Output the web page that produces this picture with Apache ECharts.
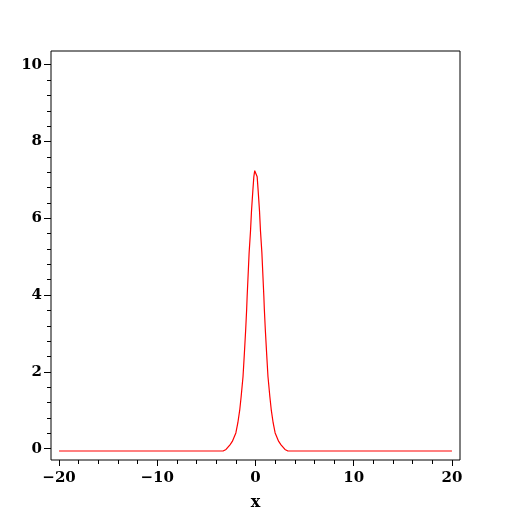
<!DOCTYPE html>
<html>
<head>
<meta charset="utf-8">
<script src="https://cdn.jsdelivr.net/npm/echarts@6/dist/echarts.min.js"></script>
<style>html,body{margin:0;padding:0;background:#fff;}#c{width:512px;height:512px;}</style>
</head>
<body>
<div id="c"></div>
<script>
var xs = [-20, -3.3, -3.0, -2.8, -2.6, -2.36, -2.0, -1.8, -1.6, -1.46, -1.27, -1.14, -1.0, -0.9, -0.85, -0.75, -0.65, -0.51, -0.41, -0.27, -0.17, -0.08, 0, 0.08, 0.17, 0.27, 0.41, 0.51, 0.65, 0.75, 0.85, 0.9, 1.0, 1.14, 1.27, 1.46, 1.6, 1.8, 2.0, 2.36, 2.6, 2.8, 3.0, 3.3, 20];
var ys = [-0.06, -0.06, -0.02, 0.04, 0.10, 0.19, 0.41, 0.67, 1.02, 1.36, 1.88, 2.45, 3.10, 3.63, 3.97, 4.53, 5.10, 5.66, 6.18, 6.72, 7.08, 7.24, 7.27, 7.24, 7.08, 6.72, 6.18, 5.66, 5.10, 4.53, 3.97, 3.63, 3.10, 2.45, 1.88, 1.36, 1.02, 0.67, 0.41, 0.19, 0.10, 0.04, -0.02, -0.06, -0.06];
var xMajorTicks = [-20, -10, 0, 10, 20];
var xMinorTicks = [-18, -16, -14, -12, -8, -6, -4, -2, 2, 4, 6, 8, 12, 14, 16, 18];
var yMajorTicks = [0, 2, 4, 6, 8, 10];
var yMinorTicks = [0.4, 0.8, 1.2, 1.6, 2.4, 2.8, 3.2, 3.6, 4.4, 4.8, 5.2, 5.6, 6.4, 6.8, 7.2, 7.6, 8.4, 8.8, 9.2, 9.6];
var xName = 'x';

var data = xs.map(function (x, i) { return [x, ys[i]]; });
var font = "'DejaVu Serif', 'Liberation Serif', serif";
var fmt = function (v) { return String(v).replace('-', '\u2212'); };
var xr = [-20.82, 20.82], yr = [-0.294, 10.357];

var chart = echarts.init(document.getElementById('c'), null, {renderer: 'canvas'});
chart.setOption({
  animation: false,
  backgroundColor: '#fff',
  grid: {left: 51, right: 52, top: 51, bottom: 52, outerBoundsMode: 'none', containLabel: false, show: true, borderColor: '#000', borderWidth: 1, backgroundColor: 'transparent'},
  xAxis: [{
    type: 'value', min: xr[0], max: xr[1], position: 'bottom',
    name: xName, nameLocation: 'middle', nameGap: 35,
    nameTextStyle: {color: '#000', fontFamily: font, fontSize: 16, fontWeight: 'bold'},
    axisLine: {show: false, onZero: false},
    axisTick: {show: true, customValues: xMajorTicks, length: 6, lineStyle: {color: '#000'}},
    axisLabel: {show: true, customValues: xMajorTicks, formatter: fmt, margin: 11, color: '#000', fontFamily: font, fontSize: 15, fontWeight: 'bold'},
    splitLine: {show: false}
  }, {
    type: 'value', min: xr[0], max: xr[1], position: 'bottom',
    axisLine: {show: false, onZero: false},
    axisTick: {show: true, customValues: xMinorTicks, length: 4, lineStyle: {color: '#000'}},
    axisLabel: {show: false},
    splitLine: {show: false}
  }],
  yAxis: [{
    type: 'value', min: yr[0], max: yr[1], position: 'left',
    axisLine: {show: false, onZero: false},
    axisTick: {show: true, customValues: yMajorTicks, length: 7, lineStyle: {color: '#000'}},
    axisLabel: {show: true, customValues: yMajorTicks, formatter: fmt, margin: 9, color: '#000', fontFamily: font, fontSize: 15, fontWeight: 'bold'},
    splitLine: {show: false}
  }, {
    type: 'value', min: yr[0], max: yr[1], position: 'left',
    axisLine: {show: false, onZero: false},
    axisTick: {show: true, customValues: yMinorTicks, length: 4, lineStyle: {color: '#000'}},
    axisLabel: {show: false},
    splitLine: {show: false}
  }],
  series: [{
    type: 'line', data: data, xAxisIndex: 0, yAxisIndex: 0,
    showSymbol: false, smooth: false,
    lineStyle: {color: '#ff0000', width: 1.2}
  }]
});
</script>
</body>
</html>
